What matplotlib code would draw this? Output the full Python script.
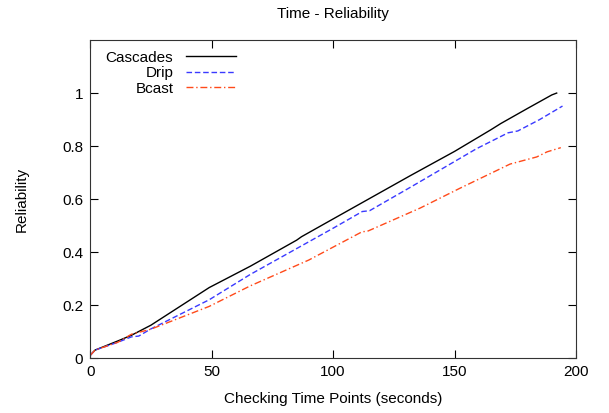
import matplotlib.pyplot as plt
from matplotlib.ticker import FuncFormatter

plt.rcParams['font.family'] = ['Liberation Sans', 'DejaVu Sans']

# Data
casc_x = [0, 2, 11.5, 17, 25, 49, 66, 85, 87, 100, 131.7, 150, 165, 169, 180, 190, 192]
casc_y = [0.01, 0.03, 0.065, 0.086, 0.124, 0.266, 0.347, 0.445, 0.458, 0.525, 0.688, 0.78, 0.862, 0.885, 0.942, 0.993, 1.0]

drip_x = [0, 2, 11.5, 17, 20, 25, 49, 65.8, 100, 112, 115, 131.7, 159, 172, 176, 185, 194.4]
drip_y = [0.01, 0.03, 0.06, 0.08, 0.083, 0.11, 0.22, 0.315, 0.49, 0.553, 0.556, 0.644, 0.79, 0.85, 0.857, 0.9, 0.951]

bcast_x = [0, 2, 11.5, 17, 25, 49, 65.8, 90, 112, 114, 135.8, 152, 172.8, 183.8, 188, 193.7]
bcast_y = [0.01, 0.03, 0.06, 0.09, 0.109, 0.195, 0.272, 0.37, 0.477, 0.478, 0.566, 0.64, 0.732, 0.759, 0.778, 0.794]

fig = plt.figure(figsize=(6.09, 4.13), dpi=100)
ax = fig.add_axes([0.148, 0.133, 0.798, 0.770])

ax.plot(casc_x, casc_y, color='black', lw=1, label='Cascades')
ax.plot(drip_x, drip_y, color='#3a3aff', lw=1, ls=(0, (4, 2)), label='Drip')
ax.plot(bcast_x, bcast_y, color='#ff4a1a', lw=1, ls=(0, (5, 2, 1, 2)), label='Bcast')

ax.set_xlim(0, 200)
ax.set_ylim(0, 1.2)
ax.set_xticks([0, 50, 100, 150, 200])
ax.set_yticks([0, 0.2, 0.4, 0.6, 0.8, 1.0])
ax.yaxis.set_major_formatter(FuncFormatter(lambda v, p: f'{v:g}'))
ax.tick_params(direction='in', length=6, top=True, right=True, labelsize=11, pad=5)
for s in ax.spines.values():
    s.set_color('#333333')

ax.set_title('Time - Reliability', fontsize=11, pad=16)
ax.set_xlabel('Checking Time Points (seconds)', fontsize=11, labelpad=9)
ax.set_ylabel('Reliability', fontsize=11, labelpad=24)

ax.legend(loc='upper left', markerfirst=False, frameon=False, fontsize=11,
          handlelength=3.3, handletextpad=0.8, labelspacing=0.1,
          borderaxespad=0.3, bbox_to_anchor=(0.01, 1.0))

fig.savefig('out.png', dpi=100)
